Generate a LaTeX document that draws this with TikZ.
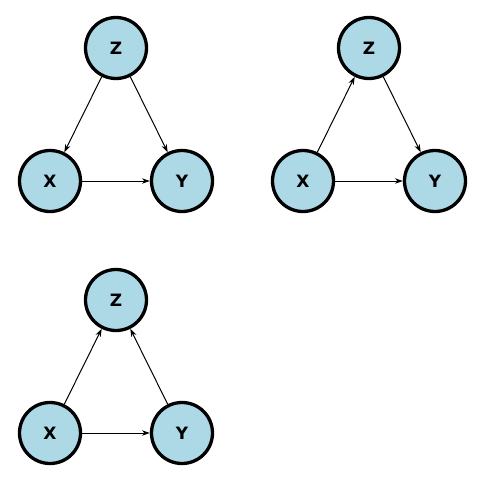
\documentclass[tikz,border=0pt]{standalone}
\usepackage{fontspec}
\setmainfont{DejaVu Sans}
\usetikzlibrary{arrows.meta,positioning}
\definecolor{nodeBlue}{HTML}{ADD8E6}
\tikzset{
    var/.style={circle,draw=black,fill=nodeBlue,line width=3.3pt,minimum size=61pt,inner sep=0pt,font=\fontsize{17}{20}\selectfont\bfseries},
    edge/.style={-{Stealth[length=8pt,width=5.5pt]},line width=1pt}
}
\begin{document}
\begin{tikzpicture}[x=1pt,y=-1pt]
    \useasboundingbox (0,0) rectangle (484,482);
    % Graph 1: Z is a common cause
    \node[var] (z1) at (116,48) {Z};
    \node[var] (x1) at (50,181) {X};
    \node[var] (y1) at (182,181) {Y};
    \draw[edge] (z1) -- (x1);
    \draw[edge] (z1) -- (y1);
    \draw[edge] (x1) -- (y1);

    % Graph 2: Z is a mediator
    \node[var] (z2) at (369,48) {Z};
    \node[var] (x2) at (303,181) {X};
    \node[var] (y2) at (435,181) {Y};
    \draw[edge] (x2) -- (z2);
    \draw[edge] (z2) -- (y2);
    \draw[edge] (x2) -- (y2);

    % Graph 3: Z is a collider
    \node[var] (z3) at (116,300) {Z};
    \node[var] (x3) at (50,433) {X};
    \node[var] (y3) at (182,433) {Y};
    \draw[edge] (x3) -- (z3);
    \draw[edge] (y3) -- (z3);
    \draw[edge] (x3) -- (y3);
\end{tikzpicture}
\end{document}
